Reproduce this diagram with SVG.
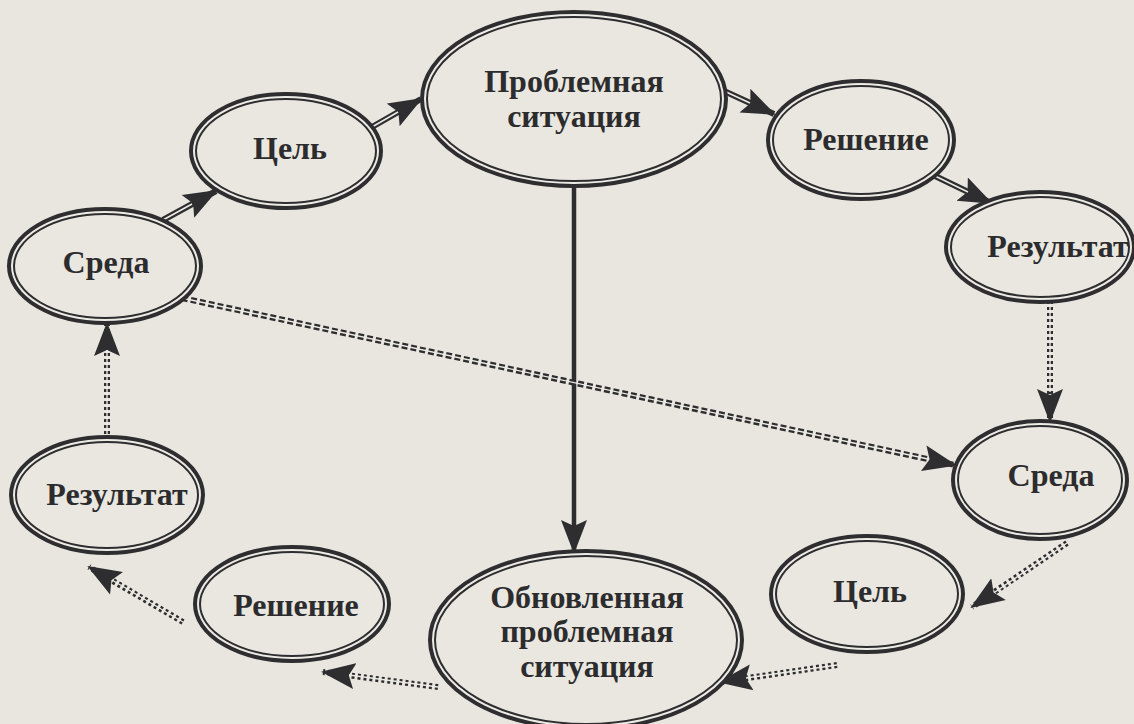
<svg xmlns="http://www.w3.org/2000/svg" width="1134" height="724" viewBox="0 0 1134 724">
<defs>
<marker id="ah" markerUnits="userSpaceOnUse" markerWidth="36" markerHeight="28" refX="32" refY="13" orient="auto" viewBox="0 0 36 26">
<path d="M0,0 L34,13 L0,26 L6,13 Z" fill="#2e2e30"/>
</marker>
</defs>
<style>
.bg{fill:#e8e6df}
.eo{fill:#e9e7e0;stroke:#2e2e30;stroke-width:8}
.ei{fill:none;stroke:#ecebe5;stroke-width:2}
.t{font-family:'Liberation Serif','DejaVu Serif','Times New Roman',serif;font-weight:bold;font-size:32px;fill:#2c2c2e;text-anchor:middle}
.sol{stroke:#2e2e30;stroke-width:6;fill:none}
.solw{stroke:#ecebe5;stroke-width:1.5;fill:none}
.dot{stroke:#2e2e30;stroke-width:6;stroke-dasharray:3 3;fill:none}
.dotw{stroke:#ecebe5;stroke-width:1.4;fill:none}
.dash{stroke:#2e2e30;stroke-width:6;stroke-dasharray:6 3;fill:none}
</style>
<rect class="bg" x="0" y="0" width="1134" height="724"/>
<g id="connectors">
<line class="sol" x1="163" y1="220" x2="216" y2="191" marker-end="url(#ah)"/>
<line class="solw" x1="163" y1="220" x2="192" y2="204"/>
<line class="sol" x1="372" y1="127" x2="421" y2="99" marker-end="url(#ah)"/>
<line class="solw" x1="372" y1="127" x2="398" y2="112"/>
<line class="sol" x1="724" y1="91" x2="774" y2="114" marker-end="url(#ah)"/>
<line class="solw" x1="724" y1="91" x2="750" y2="103"/>
<line class="sol" x1="933" y1="175" x2="991" y2="203" marker-end="url(#ah)"/>
<line class="solw" x1="933" y1="175" x2="968" y2="192"/>
<line x1="574" y1="185" x2="574" y2="552" stroke="#2e2e30" stroke-width="4.5" marker-end="url(#ah)"/>
<line class="dot" x1="1050" y1="301" x2="1050" y2="421" marker-end="url(#ah)"/>
<line class="dotw" x1="1050" y1="301" x2="1050" y2="392"/>
<line class="dash" x1="182" y1="298" x2="955" y2="465" marker-end="url(#ah)"/>
<line class="dotw" x1="182" y1="298" x2="928" y2="459"/>
<line class="dot" x1="1067" y1="543" x2="972" y2="607" marker-end="url(#ah)"/>
<line class="dotw" x1="1067" y1="543" x2="995" y2="592"/>
<line class="dot" x1="837" y1="665" x2="720" y2="682" marker-end="url(#ah)"/>
<line class="dotw" x1="837" y1="665" x2="746" y2="678"/>
<line class="dot" x1="438" y1="687" x2="323" y2="672" marker-end="url(#ah)"/>
<line class="dotw" x1="438" y1="687" x2="349" y2="675"/>
<line class="dot" x1="183" y1="622" x2="89" y2="567" marker-end="url(#ah)"/>
<line class="dotw" x1="183" y1="622" x2="112" y2="580"/>
<line class="dot" x1="107" y1="434" x2="107" y2="324" marker-end="url(#ah)"/>
<line class="dotw" x1="107" y1="434" x2="107" y2="350"/>
</g>
<g id="problem">
<ellipse class="eo" cx="574" cy="99" rx="150" ry="85"/>
<ellipse class="ei" cx="574" cy="99" rx="149" ry="84"/>
<text class="t" x="574" y="92">Проблемная</text>
<text class="t" x="574" y="127">ситуация</text>
</g>
<g id="goal1">
<ellipse class="eo" cx="286" cy="151" rx="93" ry="55"/>
<ellipse class="ei" cx="286" cy="151" rx="92" ry="54"/>
<text class="t" x="290" y="159">Цель</text>
</g>
<g id="env1">
<ellipse class="eo" cx="105" cy="266" rx="94" ry="55"/>
<ellipse class="ei" cx="105" cy="266" rx="93" ry="54"/>
<text class="t" x="106" y="273">Среда</text>
</g>
<g id="result1">
<ellipse class="eo" cx="107" cy="495" rx="94" ry="56"/>
<ellipse class="ei" cx="107" cy="495" rx="93" ry="55"/>
<text class="t" x="117" y="505">Результат</text>
</g>
<g id="solution1">
<ellipse class="eo" cx="292" cy="604" rx="95" ry="55"/>
<ellipse class="ei" cx="292" cy="604" rx="94" ry="54"/>
<text class="t" x="296" y="616">Решение</text>
</g>
<g id="updated">
<ellipse class="eo" cx="586" cy="640" rx="154" ry="87"/>
<ellipse class="ei" cx="586" cy="640" rx="153" ry="86"/>
<text class="t" x="587" y="608">Обновленная</text>
<text class="t" x="587" y="642">проблемная</text>
<text class="t" x="587" y="677">ситуация</text>
</g>
<g id="goal2">
<ellipse class="eo" cx="867" cy="594" rx="94" ry="56"/>
<ellipse class="ei" cx="867" cy="594" rx="93" ry="55"/>
<text class="t" x="870" y="602">Цель</text>
</g>
<g id="env2">
<ellipse class="eo" cx="1040" cy="480" rx="85" ry="57"/>
<ellipse class="ei" cx="1040" cy="480" rx="84" ry="56"/>
<text class="t" x="1051" y="486">Среда</text>
</g>
<g id="result2">
<ellipse class="eo" cx="1040" cy="247" rx="92" ry="53"/>
<ellipse class="ei" cx="1040" cy="247" rx="91" ry="52"/>
<text class="t" x="1058" y="257">Результат</text>
</g>
<g id="solution2">
<ellipse class="eo" cx="861" cy="140" rx="91" ry="57"/>
<ellipse class="ei" cx="861" cy="140" rx="90" ry="56"/>
<text class="t" x="866" y="150">Решение</text>
</g>
</svg>
